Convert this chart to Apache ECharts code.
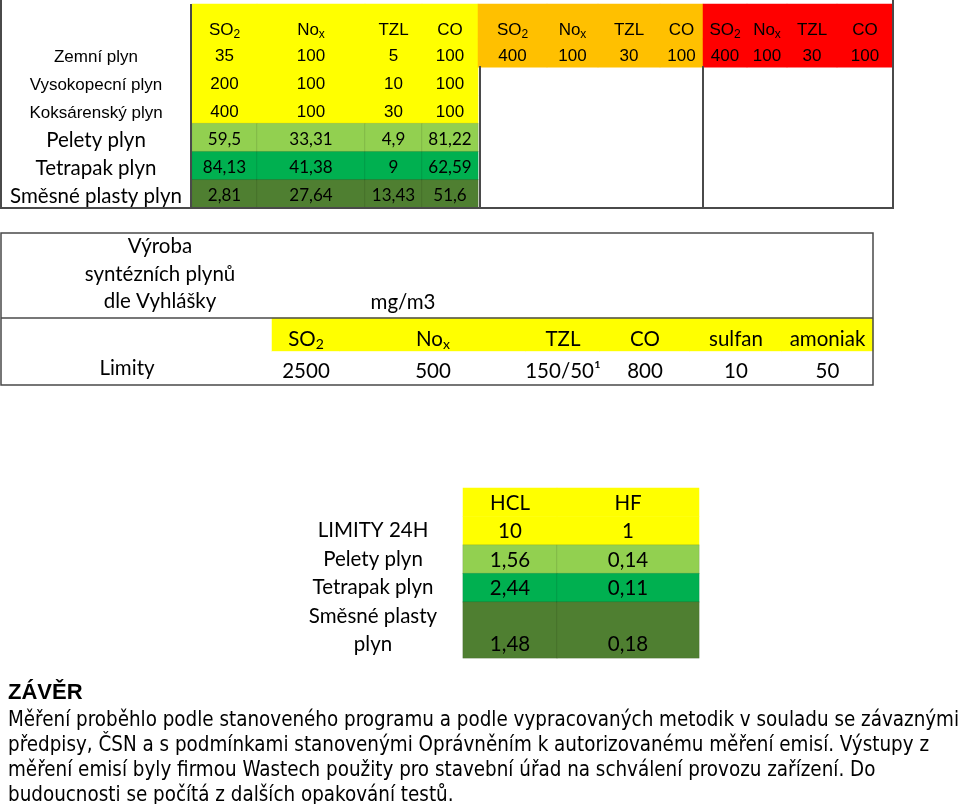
<!DOCTYPE html>
<html>
<head>
<meta charset="utf-8">
<script src="https://cdn.jsdelivr.net/npm/echarts@6/dist/echarts.min.js"></script>
<style>
  html, body { margin: 0; padding: 0; background: #fff; }
  #chart { width: 960px; height: 804px; }
</style>
</head>
<body>
<div id="chart"></div>
<script>
// ---- data ----
// tabulka 1: emisní limity (žlutá / oranžová / červená) a naměřené hodnoty (zelené řádky)
const pollutants = ['SO₂', 'Noₓ', 'TZL', 'CO']
const fuels = ['Zemní plyn', 'Vysokopecní plyn', 'Koksárenský plyn', 'Pelety plyn', 'Tetrapak plyn', 'Směsné plasty plyn']
const limitsYellow = [
  [35, 100, 5, 100],
  [200, 100, 10, 100],
  [400, 100, 30, 100]
]
const measured = [
  [59.5, 33.31, 4.9, 81.22],
  [84.13, 41.38, 9, 62.59],
  [2.81, 27.64, 13.43, 51.6]
]
const limitsOrange = [400, 100, 30, 100]
const limitsRed = [400, 100, 30, 100]

// tabulka 2: výroba syntézních plynů dle vyhlášky
const synthTitle = 'Výroba\nsyntézních plynů\ndle Vyhlášky'
const synthUnit = 'mg/m3'
const synthCols = ['SO₂', 'Noₓ', 'TZL', 'CO', 'sulfan', 'amoniak']
const synthRowLabel = 'Limity'
const synthLimits = ['2500', '500', '150/50¹', '800', '10', '50']

// tabulka 3: HCl a HF
const acidCols = ['HCL', 'HF']
const acidRows = ['LIMITY 24H', 'Pelety plyn', 'Tetrapak plyn', 'Směsné plasty\nplyn']
const acidValues = [
  [10, 1],
  [1.56, 0.14],
  [2.44, 0.11],
  [1.48, 0.18]
]

const conclusionTitle = 'ZÁVĚR'
const conclusionText = [
  'Měření proběhlo podle stanoveného programu a podle vypracovaných metodik v souladu se závaznými',
  'předpisy, ČSN a s podmínkami stanovenými Oprávněním k autorizovanému měření emisí. Výstupy z',
  'měření emisí byly firmou Wastech použity pro stavební úřad na schválení provozu zařízení. Do',
  'budoucnosti se počítá z dalších opakování testů.'
]

// ---- layout & styles ----
const YELLOW = '#ffff00'
const ORANGE = '#ffc000'
const RED = '#ff0000'
const GREENS = ['#92d050', '#00b050', '#4f7f31']
const ARIAL = 'Liberation Sans, Arial, sans-serif'
const CALIBRI = 'Lato, Noto Sans, sans-serif'
const BORDER = '#4a4a4a'

// hranice sloupců (px)
const T1_COLS = [192, 257, 365, 422, 478, 547, 598, 660, 703, 747, 787, 837, 893]
const T2_COLS = [272, 340, 526, 600, 690, 782, 873]
const T3_COLS = [463, 557, 699]

const fmt = v => String(v).replace('.', ',')
// dolní indexy přes rich text
const subFmt = p => p.name.replace('₂', '{s|2}').replace('ₓ', '{s|x}')

const grid = [], xAxis = [], yAxis = [], series = []

// jeden sloupec tabulky = jeden grid s heatmapou
function addBlock(box, rowCount, cells, rowLabels, labelOpt) {
  const i = grid.length
  grid.push({ left: box.left, top: box.top, width: box.width, height: box.height, containLabel: false })
  xAxis.push({ type: 'category', gridIndex: i, data: [''], show: false })
  yAxis.push({
    type: 'category', gridIndex: i, inverse: true,
    data: rowLabels || Array(rowCount).fill(''),
    axisLine: { show: false }, axisTick: { show: false }, splitLine: { show: false },
    axisLabel: rowLabels ? Object.assign({ interval: 0, hideOverlap: false }, labelOpt) : { show: false }
  })
  series.push({
    type: 'heatmap', xAxisIndex: i, yAxisIndex: i, silent: true,
    emphasis: { disabled: true },
    data: cells.map(c => ({
      name: c.text,
      value: [0, c.row, 0],
      itemStyle: c.border
        ? { color: c.color, borderColor: 'rgba(0,0,0,0.10)', borderWidth: 1 }
        : { color: c.color },
      label: Object.assign({ show: true, formatter: '{b}', color: '#000' }, c.label)
    }))
  })
}

function colBox(cols, j, top, height) {
  return { left: cols[j], width: cols[j + 1] - cols[j], top, height }
}

// ---- tabulka 1 ----
const t1Arial = { fontFamily: ARIAL, fontSize: 17, offset: [0, 3] }
const t1Calibri = { fontFamily: CALIBRI, fontSize: 17, offset: [0, 2] }
const t1Head = {
  fontFamily: ARIAL, fontSize: 17, lineHeight: 20, offset: [0, 9],
  formatter: subFmt,
  rich: { s: { fontFamily: ARIAL, fontSize: 12, lineHeight: 12, verticalAlign: 'bottom', color: '#000' } }
}
const fuelLabelOpt = {
  align: 'center', margin: 96,
  formatter: (v, idx) => (idx < 3 ? '{a|' : '{c|') + v + '}',
  rich: {
    a: { fontFamily: ARIAL, fontSize: 17, color: '#000', padding: [8, 0, 0, 0] },
    c: { fontFamily: CALIBRI, fontSize: 20.5, color: '#000', padding: [5, 0, 0, 0] }
  }
}

pollutants.forEach((p, j) => {
  // žlutá hlavička
  addBlock(colBox(T1_COLS, j, 4, 35), 1, [{ row: 0, text: p, color: YELLOW, label: t1Head }])
  const cells = []
  limitsYellow.forEach((r, k) => cells.push({ row: k, text: fmt(r[j]), color: YELLOW, label: t1Arial }))
  measured.forEach((r, k) => cells.push({ row: 3 + k, text: fmt(r[j]), color: GREENS[k], border: true, label: t1Calibri }))
  addBlock(colBox(T1_COLS, j, 39, 169), fuels.length, cells, j === 0 ? fuels : null, fuelLabelOpt)
})
pollutants.forEach((p, j) => {
  addBlock(colBox(T1_COLS, 4 + j, 4, 35), 1, [{ row: 0, text: p, color: ORANGE, label: t1Head }])
  addBlock(colBox(T1_COLS, 4 + j, 39, 169), fuels.length, [{ row: 0, text: fmt(limitsOrange[j]), color: ORANGE, label: t1Arial }])
})
pollutants.forEach((p, j) => {
  addBlock(colBox(T1_COLS, 8 + j, 4, 35), 1, [{ row: 0, text: p, color: RED, label: t1Head }])
  addBlock(colBox(T1_COLS, 8 + j, 39, 169), fuels.length, [{ row: 0, text: fmt(limitsRed[j]), color: RED, label: t1Arial }])
})

// ---- tabulka 2 ----
const t2Font = { fontFamily: CALIBRI, fontSize: 20.5, offset: [0, 3] }
const t2Head = {
  fontFamily: CALIBRI, fontSize: 20.5, lineHeight: 24, offset: [0, 5],
  formatter: subFmt,
  rich: { s: { fontFamily: CALIBRI, fontSize: 14, lineHeight: 14, verticalAlign: 'bottom', color: '#000' } }
}
synthCols.forEach((c, j) => {
  addBlock(colBox(T2_COLS, j, 318, 67), 2, [
    { row: 0, text: c, color: YELLOW, label: t2Head },
    { row: 1, text: synthLimits[j], color: '#fff', label: t2Font }
  ], j === 0 ? ['', synthRowLabel] : null, {
    align: 'center', margin: 145, color: '#000',
    fontFamily: CALIBRI, fontSize: 20.5, padding: [12, 0, 0, 0]
  })
})

// ---- tabulka 3 ----
const t3Font = { fontFamily: CALIBRI, fontSize: 20.5, offset: [0, 1] }
const acidLabelOpt = { align: 'center', margin: 90, color: '#000', fontFamily: CALIBRI, fontSize: 20.5, lineHeight: 28, padding: [2, 0, 0, 0] }
acidCols.forEach((c, j) => {
  const cells = [{ row: 0, text: c, color: YELLOW, label: t3Font }]
  for (let k = 0; k < 3; k++) {
    cells.push({
      row: k + 1, text: fmt(acidValues[k][j]),
      color: k === 0 ? YELLOW : GREENS[k - 1], border: k > 0, label: t3Font
    })
  }
  addBlock(colBox(T3_COLS, j, 488, 114), 4, cells, j === 0 ? [''].concat(acidRows.slice(0, 3)) : null, acidLabelOpt)
  addBlock(colBox(T3_COLS, j, 602, 56), 1, [
    { row: 0, text: fmt(acidValues[3][j]), color: GREENS[2], border: true, label: Object.assign({}, t3Font, { offset: [0, 14] }) }
  ], j === 0 ? [acidRows[3]] : null, acidLabelOpt)
})

// ---- čáry tabulek a volný text ----
const line = (x1, y1, x2, y2, w) => ({
  type: 'line', silent: true, z: 100,
  shape: { x1, y1, x2, y2 },
  style: { stroke: BORDER, lineWidth: w || 2 }
})

const graphic = [
  line(1, 0, 1, 209), line(0, 208, 894, 208), line(893, 0, 893, 209),
  line(191, 4, 191, 208), line(480, 66, 480, 208), line(703, 66, 703, 208),
  {
    type: 'rect', silent: true, z: 100,
    shape: { x: 1, y: 233, width: 872, height: 152 },
    style: { fill: null, stroke: BORDER, lineWidth: 1.5 }
  },
  line(1, 318, 873, 318, 1.5),
  {
    type: 'text', silent: true, x: 160, y: 233, z: 100,
    style: { text: synthTitle, fontFamily: CALIBRI, fontSize: 20.5, lineHeight: 27.5, fill: '#000', align: 'center', verticalAlign: 'top' }
  },
  {
    type: 'text', silent: true, x: 403, y: 302, z: 100,
    style: { text: synthUnit, fontFamily: CALIBRI, fontSize: 20.5, fill: '#000', align: 'center', verticalAlign: 'middle' }
  },
  {
    type: 'text', silent: true, x: 8, y: 693, z: 100,
    style: { text: conclusionTitle, fontFamily: ARIAL, fontWeight: 'bold', fontSize: 22, fill: '#000', verticalAlign: 'middle' }
  },
  {
    type: 'text', silent: true, x: 8, y: 708, z: 100,
    style: {
      text: conclusionText.join('\n'),
      fontFamily: 'Liberation Sans Narrow, DejaVu Sans Condensed, sans-serif',
      fontSize: 20.4, lineHeight: 25, fill: '#000'
    }
  }
]

const chart = echarts.init(document.getElementById('chart'), null, { renderer: 'canvas' })
chart.setOption({
  animation: false,
  backgroundColor: '#fff',
  grid, xAxis, yAxis, series, graphic
})
</script>
</body>
</html>
